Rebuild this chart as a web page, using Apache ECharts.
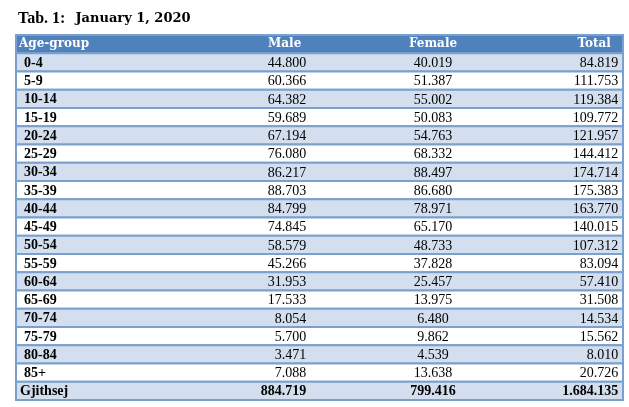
<!DOCTYPE html>
<html>
<head>
<meta charset="utf-8">
<script src="https://cdn.jsdelivr.net/npm/echarts@6/dist/echarts.min.js"></script>
<style>html,body{margin:0;padding:0;background:#fff;}#c{width:629px;height:407px;}</style>
</head>
<body>
<div id="c"></div>
<script>
var headers = ['Age-group', 'Male', 'Female', 'Total'];
var ageGroups = ['0-4','5-9','10-14','15-19','20-24','25-29','30-34','35-39','40-44','45-49','50-54','55-59','60-64','65-69','70-74','75-79','80-84','85+','Gjithsej'];
var male = [44800, 60366, 64382, 59689, 67194, 76080, 86217, 88703, 84799, 74845, 58579, 45266, 31953, 17533, 8054, 5700, 3471, 7088, 884719];
var female = [40019, 51387, 55002, 50083, 54763, 68332, 88497, 86680, 78971, 65170, 48733, 37828, 25457, 13975, 6480, 9862, 4539, 13638, 799416];
var total = [84819, 111753, 119384, 109772, 121957, 144412, 174714, 175383, 163770, 140015, 107312, 83094, 57410, 31508, 14534, 15562, 8010, 20726, 1684135];

function fmt(n){ return String(n).replace(/\B(?=(\d{3})+(?!\d))/g, '.'); }

var rowNames = ['header'].concat(ageGroups);
var rowData = rowNames.map(function(n, i){ return [0.5, i]; });

var chart = echarts.init(document.getElementById('c'), null, {renderer:'canvas'});

function renderItem(params, api){
  var idx = api.value(1);
  var cs = params.coordSys;
  var c = api.coord([0, idx]);
  var h = api.size([0, 1])[1];
  var top = c[1] - h/2;
  var x0 = cs.x, w = cs.width;
  var yc = c[1];
  var children = [];
  var fill;
  if (idx === 0) fill = '#4F81BD';
  else fill = ((idx - 1) % 2 === 0) ? '#D3DFEE' : '#FFFFFF';
  children.push({type:'rect', shape:{x:x0, y:top, width:w, height:h}, style:{fill:fill, stroke:'#7BA0CD', lineWidth:2}});
  if (idx === 0) {
    var hf = 'bold 12px "DejaVu Serif"';
    children.push({type:'text', style:{text:headers[0], x:x0+3, y:yc, align:'left', verticalAlign:'middle', font:hf, fill:'#fff'}});
    children.push({type:'text', style:{text:headers[1], x:x0+w*0.470, y:yc, align:'right', verticalAlign:'middle', font:hf, fill:'#fff'}});
    children.push({type:'text', style:{text:headers[2], x:x0+w*0.687, y:yc, align:'center', verticalAlign:'middle', font:hf, fill:'#fff'}});
    children.push({type:'text', style:{text:headers[3], x:x0+w*0.980, y:yc, align:'right', verticalAlign:'middle', font:hf, fill:'#fff'}});
  } else {
    var k = idx - 1;
    var isTot = k === ageGroups.length - 1;
    var nf = (isTot ? 'bold ' : '') + '14px "Liberation Serif"';
    var lf = 'bold 14px "Liberation Serif"';
    children.push({type:'text', style:{text:ageGroups[k], x:x0+(isTot?4:8), y:yc+1, align:'left', verticalAlign:'middle', font:lf, fill:'#000'}});
    children.push({type:'text', style:{text:fmt(male[k]), x:x0+w*0.478, y:yc+1, align:'right', verticalAlign:'middle', font:nf, fill:'#000'}});
    children.push({type:'text', style:{text:fmt(female[k]), x:x0+w*0.687, y:yc+1, align:'center', verticalAlign:'middle', font:nf, fill:'#000'}});
    children.push({type:'text', style:{text:fmt(total[k]), x:x0+w*0.992, y:yc+1, align:'right', verticalAlign:'middle', font:nf, fill:'#000'}});
  }
  return {type:'group', children:children};
}

chart.setOption({
  animation: false,
  backgroundColor: '#ffffff',
  title: {
    text: '{a|Tab. 1:}  {b|January 1, 2020}',
    left: 13, top: 5,
    textStyle: {
      rich: {
        a: {fontFamily:'Liberation Serif', fontWeight:'bold', fontSize:16, color:'#000'},
        b: {fontFamily:'DejaVu Serif', fontWeight:'bold', fontSize:13, color:'#000'}
      }
    }
  },
  grid: {left:16, right:6, top:35, bottom:7},
  xAxis: {type:'value', min:0, max:1, show:false},
  yAxis: {type:'category', data:rowNames, inverse:true, show:false},
  series: [{
    type:'custom',
    renderItem: renderItem,
    data: rowData,
    encode: {x:0, y:1},
    clip: false
  }]
});
</script>
</body>
</html>
